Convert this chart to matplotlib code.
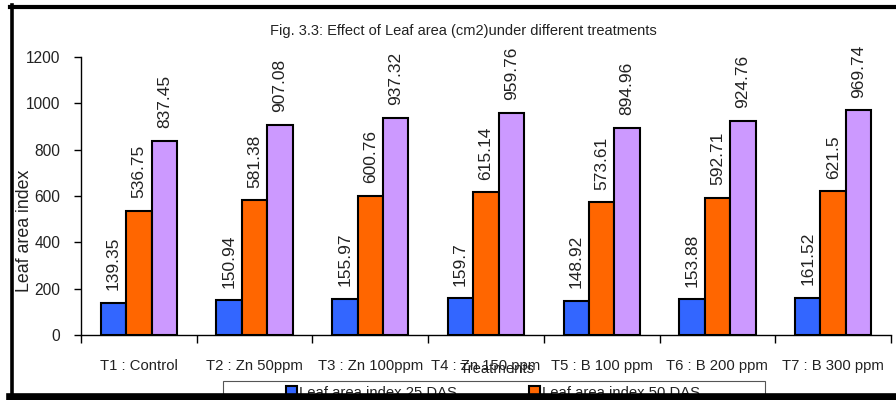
import matplotlib
matplotlib.use("Agg")
import matplotlib.pyplot as plt
import numpy as np
from matplotlib.lines import Line2D
from matplotlib.patches import Rectangle

plt.rcParams['font.family'] = ['Liberation Sans', 'DejaVu Sans']

categories = ["T1 : Control", "T2 : Zn 50ppm", "T3 : Zn 100ppm", "T4 : Zn 150 ppm",
              "T5 : B 100 ppm", "T6 : B 200 ppm", "T7 : B 300 ppm"]
lai_25 = [139.35, 150.94, 155.97, 159.7, 148.92, 153.88, 161.52]
lai_50 = [536.75, 581.38, 600.76, 615.14, 573.61, 592.71, 621.5]
lai_75 = [837.45, 907.08, 937.32, 959.76, 894.96, 924.76, 969.74]
series_names = ["Leaf area index 25 DAS", "Leaf area index 50 DAS", "Leaf area index 75 DAS"]
colors = ["#3366FF", "#FF6600", "#CC99FF"]
yticks = [0, 200, 400, 600, 800, 1000, 1200]

W, H = 896, 400
fig = plt.figure(figsize=(W / 100, H / 100), dpi=100)
ax = fig.add_axes([81 / W, 1 - 335 / H, (891 - 81) / W, (335 - 57) / H])

x = np.arange(len(categories))
bw = 0.22
bars = []
for k, (vals, c) in enumerate(zip([lai_25, lai_50, lai_75], colors)):
    b = ax.bar(x + (k - 1) * bw, vals, bw, color=c, edgecolor='black', linewidth=1.5,
               label=series_names[k], zorder=3)
    ax.bar_label(b, fmt='%g', rotation=90, padding=9, fontsize=12.5, color='#222222')
    bars.append(b)

ax.set_xlim(-0.5, len(categories) - 0.5)
ax.set_ylim(0, 1200)
ax.set_yticks(yticks)
ax.set_xticks(x)
ax.set_xticklabels(categories, fontsize=10.7, color='#222222')
ax.set_xticks(np.arange(len(categories) + 1) - 0.5, minor=True)
ax.tick_params(axis='x', which='major', length=0, pad=17)
ax.tick_params(axis='x', which='minor', length=6, width=1, direction='out')
ax.tick_params(axis='y', length=5, width=1, direction='out', pad=10, labelsize=11.2,
               labelcolor='#222222')
for s in ['top', 'right']:
    ax.spines[s].set_visible(False)
for s in ['left', 'bottom']:
    ax.spines[s].set_linewidth(1)
ax.set_ylabel("Leaf area index", fontsize=12.8, color='#222222')
ax.yaxis.label.set_verticalalignment('center')
ax.yaxis.set_label_coords((24 - 81) / (891 - 81), (335 - 231) / (335 - 57))

fig.text(497 / W, 1 - 369 / H, "Treatments", ha='center', va='center', fontsize=10.7,
         color='#222222')
fig.text(463 / W, 1 - 31 / H, "Fig. 3.3: Effect of Leaf area (cm2)under different treatments",
         ha='center', va='center', fontsize=10.5, color='#222222')

# legend (row-wise order: 25 DAS, 50 DAS on first row; 75 DAS wraps below)
order = [0, 2, 1]
leg = fig.legend(handles=[bars[i] for i in order], labels=[series_names[i] for i in order],
                 ncol=2, frameon=False,
                 loc='upper left', bbox_to_anchor=(286 / W, 1 - 386 / H),
                 borderpad=0, borderaxespad=0, handlelength=0.75, handleheight=0.75,
                 handletextpad=0.15, columnspacing=4.8, fontsize=10.7)
for t in leg.get_texts():
    t.set_color('#222222')
fig.add_artist(Rectangle((223 / W, 0), (765 - 223) / W, (400 - 381) / H,
                         transform=fig.transFigure, fill=False, edgecolor='#555555',
                         linewidth=0.8, zorder=5))

# outer frame
fig.add_artist(Line2D([11.5 / W, 11.5 / W], [0, 1 - 5 / H], transform=fig.transFigure,
                      color='black', linewidth=2.6, zorder=10))
fig.add_artist(Line2D([10 / W, 1], [1 - 7 / H, 1 - 7 / H], transform=fig.transFigure,
                      color='black', linewidth=3.0, zorder=10))
fig.add_artist(Line2D([10 / W, 1], [1 - 397 / H, 1 - 397 / H], transform=fig.transFigure,
                      color='black', linewidth=5.5, zorder=10))

fig.savefig("out.png", dpi=100)
